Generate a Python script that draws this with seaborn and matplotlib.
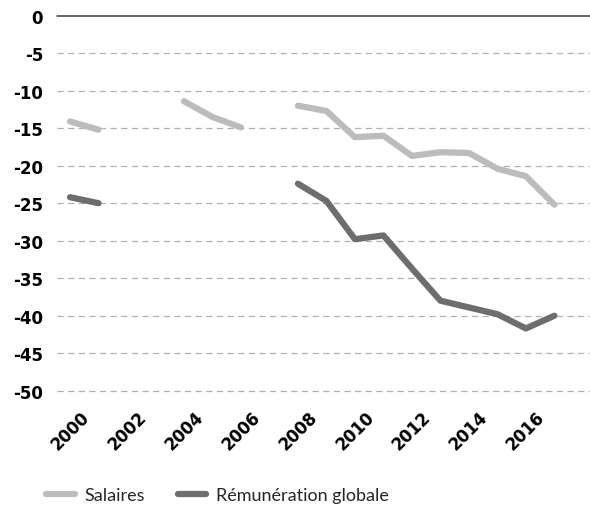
import numpy as np
import pandas as pd
import matplotlib
matplotlib.use("Agg")
import matplotlib.pyplot as plt
import seaborn as sns

# ==========================================================================
# DATA (gaps = missing years)
# ==========================================================================
years = list(range(2000, 2018))
salaires = [-14.1, -15.2, np.nan, np.nan, -11.4, -13.5, -14.9, np.nan,
            -12.0, -12.7, -16.2, -16.0, -18.7, -18.2, -18.3, -20.4, -21.4, -25.2]
remuneration = [-24.2, -25.0, np.nan, np.nan, np.nan, np.nan, np.nan, np.nan,
                -22.4, -24.7, -29.8, -29.3, -33.7, -38.0, -38.9, -39.8, -41.7, -40.0]
series_names = ["Salaires", "Rémunération globale"]
series_colors = ["#bcbcbe", "#6d6d70"]
tick_years = list(range(2000, 2017, 2))
y_ticks = list(range(0, -51, -5))


def to_long(values, name):
    df = pd.DataFrame({"year": years, "value": values})
    # a new segment starts after every gap so the line breaks there
    df["segment"] = df["value"].isna().cumsum()
    df["series"] = name
    return df.dropna()


data = pd.concat([to_long(salaires, series_names[0]),
                  to_long(remuneration, series_names[1])], ignore_index=True)
data["unit"] = data["series"] + "_" + data["segment"].astype(str)

# ==========================================================================
# PLOT
# ==========================================================================
sns.set_theme(style="white")
plt.rcParams["font.family"] = ["DejaVu Sans"]

fig = plt.figure(figsize=(5.9, 5.06), dpi=100)
ax = fig.add_axes([0.0966, 0.2259, 0.9034, 0.7411])

sns.lineplot(data=data, x="year", y="value", hue="series", units="unit",
             estimator=None, hue_order=series_names,
             palette=dict(zip(series_names, series_colors)),
             linewidth=4.5, solid_capstyle="round", ax=ax)

ax.set_xlim(1999.544, 2018.25)
ax.set_ylim(-50, 0)

# dashed gridlines, solid zero line
for v in y_ticks[1:]:
    ax.axhline(v, color="#b0b0b0", linewidth=0.9, linestyle=(0, (5, 3.5)),
               zorder=0, clip_on=False)
ax.axhline(0, color="#3a3a3a", linewidth=1.1, zorder=1, clip_on=False)

ax.set_yticks(y_ticks)
ax.set_yticklabels([str(v) for v in y_ticks], fontsize=12, fontweight="bold")
ax.set_xticks(tick_years)
ax.set_xticklabels([str(y) for y in tick_years], fontsize=12, fontweight="bold",
                   rotation=45, ha="center")
ax.tick_params(axis="y", length=0, pad=10, colors="black")
ax.tick_params(axis="x", length=0, pad=12, colors="black")
ax.set_xlabel("")
ax.set_ylabel("")
sns.despine(ax=ax, left=True, bottom=True)
ax.grid(False)

sns.move_legend(ax, "center left", bbox_to_anchor=(0.05, 0.02),
                bbox_transform=fig.transFigure, ncol=2, frameon=False,
                title=None, fontsize=13, handlelength=1.6,
                handletextpad=0.55, columnspacing=1.8)
for t in ax.get_legend().get_texts():
    t.set_fontfamily(["Lato", "DejaVu Sans"])

fig.savefig("out.png", dpi=100)
